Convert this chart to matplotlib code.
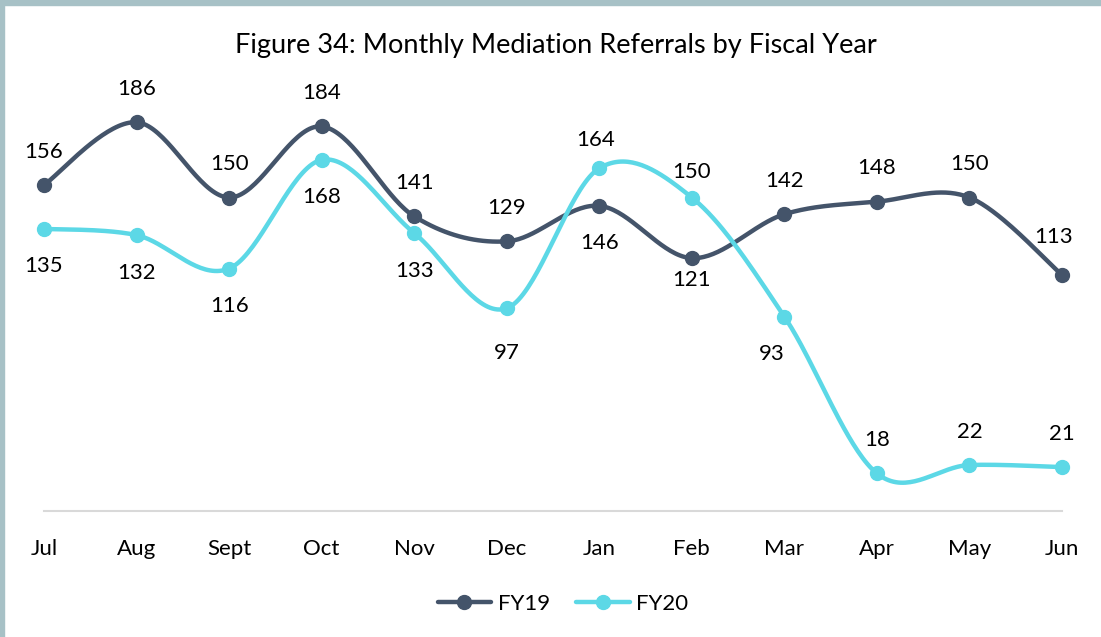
import numpy as np
import matplotlib.pyplot as plt
from matplotlib.lines import Line2D
from matplotlib.patches import Rectangle

months = ['Jul', 'Aug', 'Sept', 'Oct', 'Nov', 'Dec', 'Jan', 'Feb', 'Mar', 'Apr', 'May', 'Jun']
fy19 = [156, 186, 150, 184, 141, 129, 146, 121, 142, 148, 150, 113]
fy20 = [135, 132, 116, 168, 133, 97, 164, 150, 93, 18, 22, 21]

# label placement: +1 above the point, -1 below
fy19_side = [1, 1, 1, 1, 1, 1, -1, -1, 1, 1, 1, 1]
fy20_side = [-1, -1, -1, -1, -1, -1, 1, 1, -1, 1, 1, 1]

c19 = '#44546A'
c20 = '#5CD8E6'

plt.rcParams['font.family'] = ['Lato', 'DejaVu Sans']

W, H = 1101, 637
fig = plt.figure(figsize=(W / 100, H / 100), dpi=100)
ax = fig.add_axes([44 / W, 1 - 511 / H, (1062 - 44) / W, (511 - 93) / H])
ax.set_xlim(0, 11)
ax.set_ylim(0, 200)

# px per category / px per unit, used so the smoothing is done in screen space
px_x = (1062 - 44) / 11
px_y = (511 - 93) / 200


def smooth(vals, n=40):
    # Catmull-Rom style bezier like spreadsheet "smoothed line"
    p = np.column_stack([np.arange(len(vals)) * px_x, np.array(vals, float) * px_y])
    pts = []
    for i in range(len(p) - 1):
        p0 = p[max(i - 1, 0)]
        p1 = p[i]
        p2 = p[i + 1]
        p3 = p[min(i + 2, len(p) - 1)]
        c1 = p1 + (p2 - p0) / 6
        c2 = p2 - (p3 - p1) / 6
        t = np.linspace(0, 1, n)[:, None]
        seg = ((1 - t) ** 3) * p1 + 3 * ((1 - t) ** 2) * t * c1 + 3 * (1 - t) * t ** 2 * c2 + t ** 3 * p2
        pts.append(seg if i == 0 else seg[1:])
    pts = np.vstack(pts)
    return pts[:, 0] / px_x, pts[:, 1] / px_y


x = np.arange(len(months))
for vals, col in [(fy19, c19), (fy20, c20)]:
    sx, sy = smooth(vals)
    ax.plot(sx, sy, color=col, lw=3.2, solid_capstyle='round', zorder=3, clip_on=False)
    ax.plot(x, vals, 'o', color=col, ms=10, zorder=4, clip_on=False)

# data labels
nudge = {('fy19', 11): (-6, 3), ('fy19', 7): (0, 11), ('fy20', 8): (-9, 0),
         ('fy20', 6): (-3, -4), ('fy20', 7): (0, -6), ('fy20', 5): (0, -5)}
for name, vals, side in [('fy19', fy19, fy19_side), ('fy20', fy20, fy20_side)]:
    for i, (v, s) in enumerate(zip(vals, side)):
        dx, dy = nudge.get((name, i), (0, 0))
        off = 24 if s > 0 else -27
        ax.annotate(str(v), (i, v), xytext=(dx, off + dy), textcoords='offset points',
                    ha='center', va='center', fontsize=16, color='black', zorder=5)

for sp in ['top', 'right', 'left']:
    ax.spines[sp].set_visible(False)
ax.spines['bottom'].set_color('#D9D9D9')
ax.spines['bottom'].set_linewidth(1.5)
ax.set_yticks([])
ax.set_xticks(x)
ax.set_xticklabels(months, fontsize=16)
ax.tick_params(axis='x', length=0, pad=20)

fig.text(556 / W, 1 - 45 / H, 'Figure 34: Monthly Mediation Referrals by Fiscal Year',
         ha='center', va='center', fontsize=19.5)

handles = [Line2D([], [], color=c19, lw=3.2, marker='o', ms=10, solid_capstyle='round'),
           Line2D([], [], color=c20, lw=3.2, marker='o', ms=10, solid_capstyle='round')]
fig.legend(handles, ['FY19', 'FY20'], loc='center', bbox_to_anchor=(563 / W, 1 - 604 / H),
           ncol=2, frameon=False, fontsize=16, handlelength=2.4, columnspacing=1.2,
           handletextpad=0.3)

# frame strips along the top and left edge
fig.patches.append(Rectangle((0, 1 - 5 / H), 1, 5 / H, transform=fig.transFigure,
                             color='#A7C1C6', zorder=0))
fig.patches.append(Rectangle((0, 0), 4 / W, 1, transform=fig.transFigure,
                             color='#A7C1C6', zorder=0))

fig.savefig('out.png', dpi=100)
